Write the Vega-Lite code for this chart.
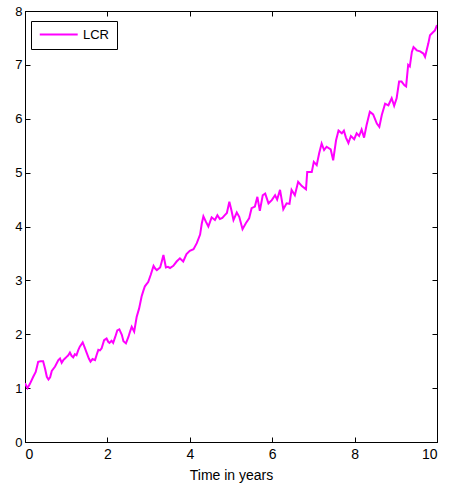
{
  "$schema": "https://vega.github.io/schema/vega-lite/v6.json",
  "width": 412,
  "height": 431,
  "autosize": {"type": "none"},
  "padding": {"left": 25, "top": 11, "right": 12, "bottom": 50},
  "background": "white",
  "config": {
    "font": "Liberation Sans",
    "view": {"stroke": "black", "strokeWidth": 1},
    "axis": {
      "grid": false,
      "domainColor": "black",
      "domainWidth": 1,
      "tickColor": "black",
      "tickSize": -5,
      "labelColor": "black",
      "labelFont": "Liberation Sans",
      "titleFont": "Liberation Sans",
      "titleColor": "black",
      "titleFontWeight": "normal"
    }
  },
  "data": {
    "values": [
      {"t": 0.00, "v": 1.09}, {"t": 0.06, "v": 1.00}, {"t": 0.12, "v": 1.08}, {"t": 0.20, "v": 1.21},
      {"t": 0.26, "v": 1.30}, {"t": 0.32, "v": 1.49}, {"t": 0.38, "v": 1.50}, {"t": 0.44, "v": 1.50},
      {"t": 0.49, "v": 1.35}, {"t": 0.53, "v": 1.21}, {"t": 0.57, "v": 1.16}, {"t": 0.61, "v": 1.20},
      {"t": 0.65, "v": 1.32}, {"t": 0.73, "v": 1.40}, {"t": 0.81, "v": 1.52}, {"t": 0.85, "v": 1.55},
      {"t": 0.89, "v": 1.47}, {"t": 0.93, "v": 1.52}, {"t": 0.97, "v": 1.55}, {"t": 1.01, "v": 1.58},
      {"t": 1.05, "v": 1.61}, {"t": 1.09, "v": 1.66}, {"t": 1.13, "v": 1.60}, {"t": 1.17, "v": 1.57},
      {"t": 1.21, "v": 1.63}, {"t": 1.25, "v": 1.61}, {"t": 1.29, "v": 1.70}, {"t": 1.33, "v": 1.77},
      {"t": 1.40, "v": 1.85}, {"t": 1.45, "v": 1.75}, {"t": 1.50, "v": 1.65}, {"t": 1.55, "v": 1.55},
      {"t": 1.59, "v": 1.49}, {"t": 1.64, "v": 1.54}, {"t": 1.70, "v": 1.52}, {"t": 1.74, "v": 1.62},
      {"t": 1.78, "v": 1.71}, {"t": 1.82, "v": 1.70}, {"t": 1.86, "v": 1.74}, {"t": 1.92, "v": 1.89},
      {"t": 1.98, "v": 1.92}, {"t": 2.02, "v": 1.86}, {"t": 2.05, "v": 1.84}, {"t": 2.10, "v": 1.88},
      {"t": 2.14, "v": 1.84}, {"t": 2.19, "v": 1.95}, {"t": 2.24, "v": 2.07}, {"t": 2.29, "v": 2.09},
      {"t": 2.35, "v": 1.99}, {"t": 2.39, "v": 1.87}, {"t": 2.45, "v": 1.83}, {"t": 2.51, "v": 1.95},
      {"t": 2.55, "v": 2.05}, {"t": 2.59, "v": 2.14}, {"t": 2.65, "v": 2.05}, {"t": 2.71, "v": 2.32},
      {"t": 2.77, "v": 2.48}, {"t": 2.83, "v": 2.70}, {"t": 2.87, "v": 2.80}, {"t": 2.91, "v": 2.89},
      {"t": 2.95, "v": 2.93}, {"t": 2.99, "v": 2.97}, {"t": 3.05, "v": 3.10}, {"t": 3.12, "v": 3.27},
      {"t": 3.16, "v": 3.22}, {"t": 3.20, "v": 3.19}, {"t": 3.28, "v": 3.24}, {"t": 3.32, "v": 3.35},
      {"t": 3.36, "v": 3.47}, {"t": 3.42, "v": 3.24}, {"t": 3.47, "v": 3.25}, {"t": 3.52, "v": 3.23},
      {"t": 3.60, "v": 3.27}, {"t": 3.68, "v": 3.35}, {"t": 3.76, "v": 3.41}, {"t": 3.84, "v": 3.35},
      {"t": 3.92, "v": 3.49}, {"t": 4.00, "v": 3.55}, {"t": 4.09, "v": 3.58}, {"t": 4.17, "v": 3.69},
      {"t": 4.25, "v": 3.85}, {"t": 4.29, "v": 4.05}, {"t": 4.33, "v": 4.19}, {"t": 4.39, "v": 4.09},
      {"t": 4.45, "v": 4.00}, {"t": 4.53, "v": 4.17}, {"t": 4.61, "v": 4.12}, {"t": 4.67, "v": 4.21},
      {"t": 4.73, "v": 4.14}, {"t": 4.79, "v": 4.16}, {"t": 4.85, "v": 4.21}, {"t": 4.90, "v": 4.25},
      {"t": 4.96, "v": 4.46}, {"t": 5.01, "v": 4.30}, {"t": 5.06, "v": 4.12}, {"t": 5.14, "v": 4.26},
      {"t": 5.20, "v": 4.18}, {"t": 5.28, "v": 3.95}, {"t": 5.36, "v": 4.06}, {"t": 5.44, "v": 4.15},
      {"t": 5.50, "v": 4.34}, {"t": 5.58, "v": 4.37}, {"t": 5.64, "v": 4.55}, {"t": 5.70, "v": 4.29},
      {"t": 5.77, "v": 4.58}, {"t": 5.83, "v": 4.61}, {"t": 5.91, "v": 4.43}, {"t": 5.99, "v": 4.49},
      {"t": 6.07, "v": 4.58}, {"t": 6.12, "v": 4.50}, {"t": 6.19, "v": 4.68}, {"t": 6.27, "v": 4.32},
      {"t": 6.35, "v": 4.43}, {"t": 6.42, "v": 4.42}, {"t": 6.47, "v": 4.68}, {"t": 6.55, "v": 4.58},
      {"t": 6.63, "v": 4.83}, {"t": 6.72, "v": 4.75}, {"t": 6.82, "v": 4.69}, {"t": 6.85, "v": 5.01},
      {"t": 6.96, "v": 5.01}, {"t": 7.01, "v": 5.20}, {"t": 7.08, "v": 5.14}, {"t": 7.14, "v": 5.36},
      {"t": 7.20, "v": 5.54}, {"t": 7.26, "v": 5.42}, {"t": 7.32, "v": 5.48}, {"t": 7.42, "v": 5.43},
      {"t": 7.48, "v": 5.23}, {"t": 7.55, "v": 5.60}, {"t": 7.61, "v": 5.78}, {"t": 7.69, "v": 5.73},
      {"t": 7.74, "v": 5.78}, {"t": 7.79, "v": 5.65}, {"t": 7.85, "v": 5.55}, {"t": 7.91, "v": 5.68},
      {"t": 7.99, "v": 5.62}, {"t": 8.05, "v": 5.73}, {"t": 8.11, "v": 5.68}, {"t": 8.17, "v": 5.80},
      {"t": 8.23, "v": 5.65}, {"t": 8.29, "v": 5.88}, {"t": 8.37, "v": 6.13}, {"t": 8.45, "v": 6.08},
      {"t": 8.54, "v": 5.91}, {"t": 8.60, "v": 5.85}, {"t": 8.66, "v": 6.07}, {"t": 8.74, "v": 6.28},
      {"t": 8.82, "v": 6.25}, {"t": 8.90, "v": 6.38}, {"t": 8.96, "v": 6.24}, {"t": 9.02, "v": 6.38},
      {"t": 9.08, "v": 6.69}, {"t": 9.14, "v": 6.69}, {"t": 9.21, "v": 6.62}, {"t": 9.25, "v": 6.60},
      {"t": 9.30, "v": 7.00}, {"t": 9.34, "v": 6.97}, {"t": 9.39, "v": 7.24}, {"t": 9.43, "v": 7.33},
      {"t": 9.51, "v": 7.27}, {"t": 9.59, "v": 7.25}, {"t": 9.67, "v": 7.21}, {"t": 9.71, "v": 7.15},
      {"t": 9.79, "v": 7.40}, {"t": 9.83, "v": 7.55}, {"t": 9.91, "v": 7.61}, {"t": 9.95, "v": 7.64},
      {"t": 10.00, "v": 7.74}
    ]
  },
  "layer": [
    {
      "mark": {"type": "line", "strokeWidth": 2, "clip": true},
      "encoding": {
        "x": {
          "field": "t", "type": "quantitative",
          "scale": {"domain": [0, 10], "nice": false},
          "axis": {"orient": "bottom", "values": [0, 2, 4, 6, 8, 10], "title": "Time in years",
                   "labelFontSize": 14, "labelPadding": 10, "titleFontSize": 14, "titlePadding": 7}
        },
        "y": {
          "field": "v", "type": "quantitative",
          "scale": {"domain": [0, 8], "nice": false},
          "axis": {"orient": "left", "values": [0, 1, 2, 3, 4, 5, 6, 7, 8], "title": null,
                   "labelFontSize": 13, "labelPadding": 8}
        },
        "color": {
          "datum": "LCR",
          "type": "nominal",
          "scale": {"range": ["#ff00ff"]},
          "legend": {
            "title": null,
            "orient": "none",
            "legendX": 6,
            "legendY": 10,
            "symbolType": "M-1,0H7",
            "symbolStrokeWidth": 2,
            "symbolSize": 90,
            "labelFontSize": 13,
            "labelColor": "black",
            "labelOffset": 32,
            "strokeColor": "black",
            "fillColor": "white",
            "padding": 7
          }
        }
      }
    },
    {
      "mark": {"type": "line", "opacity": 0},
      "encoding": {
        "x": {
          "field": "t", "type": "quantitative",
          "axis": {"orient": "top", "values": [0, 2, 4, 6, 8, 10], "labels": false, "title": null}
        },
        "y": {
          "field": "v", "type": "quantitative",
          "axis": {"orient": "right", "values": [0, 1, 2, 3, 4, 5, 6, 7, 8], "labels": false, "title": null}
        }
      }
    }
  ],
  "resolve": {"axis": {"x": "independent", "y": "independent"}}
}
